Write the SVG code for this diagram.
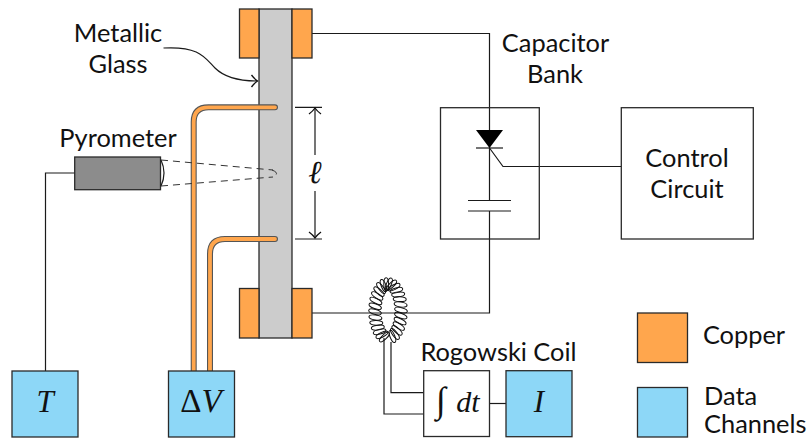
<svg xmlns="http://www.w3.org/2000/svg" xmlns:xlink="http://www.w3.org/1999/xlink" width="809" height="440" viewBox="0 0 809 440">
<style>
text{font-family:"Lato","Open Sans","Liberation Sans",sans-serif;font-weight:400;font-size:25.4px;fill:#111;text-anchor:middle}
.m{font-family:"Liberation Serif",serif;font-style:italic;font-weight:400;font-size:31px}
.box{stroke:#2a2a2a;stroke-width:1.3}
.cu{fill:#ffa64d}.dq{fill:#8dd7f7}.w{fill:#fff}
.wire{fill:none;stroke:#1a1a1a;stroke-width:1.2}
.tout{fill:none;stroke:#555;stroke-width:6;stroke-linecap:round}
.tin{fill:none;stroke:#ffa64d;stroke-width:3.8;stroke-linecap:round}
.dash{fill:none;stroke:#333;stroke-width:1;stroke-dasharray:7 5}
#coil ellipse{fill:none;stroke:#111;stroke-width:1}
</style>
<defs>
<marker id="op" markerUnits="userSpaceOnUse" markerWidth="14" markerHeight="16" refX="9" refY="8" orient="auto-start-reverse"><path d="M3 2 Q6 6 9 8 Q6 10 3 14" fill="none" stroke="#111" stroke-width="1.3"/></marker>
</defs>
<g id="connectors">
<path class="wire" d="M312 33.5H489.5V200.5M489.5 211V313H312"/>
<path class="wire" d="M489.5 148L503 166.5H621"/>
<path class="wire" d="M468 200.5H511M468 211H511"/>
<path class="wire" d="M75 173H45.5V371"/>
<path class="wire" d="M384 338V414H424M391 342V392.7H424"/>
<path class="wire" d="M489.5 403.5H506"/>
<path class="wire" stroke-width="1.6" marker-end="url(#op)" d="M163.5 48C200 46 205 58 215 68C225 78 240 81 257.500 81"/>
<path class="wire" d="M295 107.300H322M295 239H322"/>
<path class="wire" marker-start="url(#op)" d="M315 108V155"/>
<path class="wire" marker-end="url(#op)" d="M315 191V238"/>
</g>
<g id="glass"><rect class="box" x="259" y="9" width="33" height="329" fill="#ccc"/></g>
<g id="copper-top"><rect class="box cu" x="239.500" y="9" width="19.500" height="49"/><rect class="box cu" x="292" y="9" width="20" height="49"/></g>
<g id="copper-bottom"><rect class="box cu" x="239.500" y="288.500" width="19.500" height="49.500"/><rect class="box cu" x="292" y="288.500" width="20" height="49.500"/></g>
<g id="tubes">
<path class="tout" d="M193.700 371V122Q193.700 107.300 208.500 107.300H275"/><path class="tin" d="M193.700 371V122Q193.700 107.300 208.500 107.300H275"/>
<path class="tout" d="M210 371V254Q210 239 225 239H275"/><path class="tin" d="M210 371V254Q210 239 225 239H275"/>
</g>
<g id="pyrometer">
<rect class="box" x="74.700" y="157" width="85.800" height="32.700" fill="#8c8c8c"/>
<path class="wire" stroke-width="1" d="M161 160Q167 173 161 186"/>
<path class="dash" d="M161 160L273 170M161 186L273 177"/>
<path class="dash" stroke-dasharray="3 2" d="M272 170Q281 173.500 272 177"/>
<text x="118" y="147">Pyrometer</text>
</g>
<g id="capacitor-bank">
<rect class="box" x="440.500" y="107.700" width="98.800" height="131.300" fill="none"/>
<path d="M476 130H503L489.500 148Z" fill="#000"/><path class="wire" d="M476 148H503"/>
<text x="555.500" y="52">Capacitor</text><text x="555" y="83">Bank</text>
</g>
<g id="control-circuit">
<rect class="box" x="621.300" y="107.700" width="132" height="131.300" fill="none"/>
<text x="687" y="167">Control</text><text x="687" y="198">Circuit</text>
</g>
<g id="coil">
<ellipse cx="392.400" cy="336.400" rx="6.500" ry="2.400" transform="rotate(68 392.400 336.400)"/>
<ellipse cx="394.900" cy="333.900" rx="6.500" ry="2.400" transform="rotate(53 394.900 333.900)"/>
<ellipse cx="397" cy="330.400" rx="6.500" ry="2.400" transform="rotate(42 397 330.400)"/>
<ellipse cx="398.800" cy="326.100" rx="6.500" ry="2.400" transform="rotate(33 398.800 326.100)"/>
<ellipse cx="400.100" cy="321.100" rx="6.500" ry="2.400" transform="rotate(26 400.100 321.100)"/>
<ellipse cx="400.800" cy="315.700" rx="6.500" ry="2.400" transform="rotate(20 400.800 315.700)"/>
<ellipse cx="401" cy="310.100" rx="6.500" ry="2.400" transform="rotate(14 401 310.100)"/>
<ellipse cx="400.600" cy="304.500" rx="6.500" ry="2.400" transform="rotate(8 400.600 304.500)"/>
<ellipse cx="399.700" cy="299.200" rx="6.500" ry="2.400" transform="rotate(2 399.700 299.200)"/>
<ellipse cx="398.200" cy="294.400" rx="6.500" ry="2.400" transform="rotate(-5 398.200 294.400)"/>
<ellipse cx="396.400" cy="290.300" rx="6.500" ry="2.400" transform="rotate(-15 396.400 290.300)"/>
<ellipse cx="394.100" cy="287.200" rx="6.500" ry="2.400" transform="rotate(-27 394.100 287.200)"/>
<ellipse cx="391.600" cy="285" rx="6.500" ry="2.400" transform="rotate(-44 391.600 285)"/>
<ellipse cx="388.900" cy="284.100" rx="6.500" ry="2.400" transform="rotate(-67 388.900 284.100)"/>
<ellipse cx="386.200" cy="284.300" rx="6.500" ry="2.400" transform="rotate(-91 386.200 284.300)"/>
<ellipse cx="383.600" cy="285.600" rx="6.500" ry="2.400" transform="rotate(-112 383.600 285.600)"/>
<ellipse cx="381.100" cy="288.100" rx="6.500" ry="2.400" transform="rotate(-127 381.100 288.100)"/>
<ellipse cx="379" cy="291.600" rx="6.500" ry="2.400" transform="rotate(-138 379 291.600)"/>
<ellipse cx="377.200" cy="295.900" rx="6.500" ry="2.400" transform="rotate(-147 377.200 295.900)"/>
<ellipse cx="375.900" cy="300.900" rx="6.500" ry="2.400" transform="rotate(-154 375.900 300.900)"/>
<ellipse cx="375.200" cy="306.300" rx="6.500" ry="2.400" transform="rotate(-160 375.200 306.300)"/>
<ellipse cx="375" cy="311.900" rx="6.500" ry="2.400" transform="rotate(-164 375 311.900)"/>
<ellipse cx="375.400" cy="317.500" rx="6.500" ry="2.400" transform="rotate(-172 375.400 317.500)"/>
<ellipse cx="376.300" cy="322.800" rx="6.500" ry="2.400" transform="rotate(-178 376.300 322.800)"/>
<ellipse cx="377.800" cy="327.600" rx="6.500" ry="2.400" transform="rotate(174 377.800 327.600)"/>
<ellipse cx="379.600" cy="331.700" rx="6.500" ry="2.400" transform="rotate(165 379.600 331.700)"/>
<ellipse cx="381.900" cy="334.800" rx="6.500" ry="2.400" transform="rotate(153 381.900 334.800)"/>
<ellipse cx="384.400" cy="337" rx="6.500" ry="2.400" transform="rotate(136 384.400 337)"/>
<text x="498.500" y="361">Rogowski Coil</text>
</g>
<g id="T"><rect class="box dq" x="12" y="371" width="66" height="66"/><text class="m" x="45" y="412">T</text></g>
<g id="dV"><rect class="box dq" x="168.500" y="371" width="66" height="66"/><text class="m" x="201" y="412" style="font-size:33px"><tspan font-style="normal">Δ</tspan>V</text></g>
<g id="integrator"><rect class="box w" x="423.700" y="370.700" width="65.800" height="65.800"/><text class="m" x="441" y="412" style="font-size:36px">∫</text><text class="m" x="468" y="412" style="font-size:30px">dt</text></g>
<g id="I"><rect class="box dq" x="506" y="370.700" width="66" height="66"/><text class="m" x="539" y="412">I</text></g>
<g id="ell"><text class="m" x="315" y="183" style="font-size:32px">ℓ</text></g>
<g id="metallic-glass-label"><text x="118" y="42">Metallic</text><text x="118" y="73">Glass</text></g>
<g id="legend">
<rect class="box cu" x="637.500" y="313" width="50" height="49.500"/><text x="744" y="344">Copper</text>
<rect class="box dq" x="637.500" y="387.500" width="50" height="49.500"/><text x="704" y="405" style="text-anchor:start">Data</text><text x="704" y="433" style="text-anchor:start">Channels</text>
</g>
</svg>
